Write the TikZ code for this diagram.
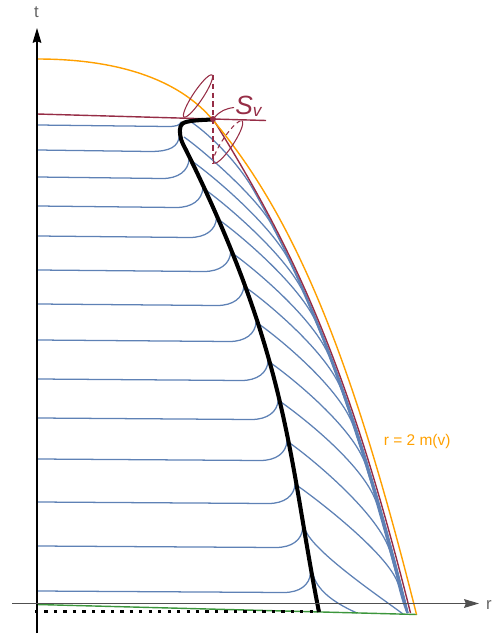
\documentclass[tikz,border=0pt]{standalone}
\usepackage{fontspec}
\setmainfont{Liberation Sans}
\usetikzlibrary{arrows.meta,calc}
\definecolor{bl}{RGB}{94,129,181}
\definecolor{mr}{RGB}{150,45,70}
\definecolor{org}{RGB}{255,160,0}
\definecolor{grn}{RGB}{60,150,60}
\definecolor{axg}{RGB}{80,80,80}
\definecolor{lbg}{RGB}{100,100,100}
% #1,#2: start on black curve; #3: curve parameter of merge point on envelope; #4: offset (px); #5: control length
\newcommand\envray[5]{%
  \path ($(E0)!#3!(E1)$) coordinate (a1) ($(E1)!#3!(E2)$) coordinate (a2) ($(E2)!#3!(E3)$) coordinate (a3);
  \path ($(a1)!#3!(a2)$) coordinate (b1) ($(a2)!#3!(a3)$) coordinate (b2);
  \path ($(b1)!#3!(b2)$) coordinate (m);
  \path ([shift={(-#4,0)}]m) coordinate (ms) ([shift={(-#4,0)}]b2) coordinate (b2s)
        ([shift={(-#4,0)}]a3) coordinate (a3s) ([shift={(-2-0.3*#4,0)}]E3) coordinate (es);
  \draw[ray] (#1,#2) .. controls +(20,14) and ($(ms)!-#5!(b2s)$) .. (ms) .. controls (b2s) and (a3s) .. (es);
}
\begin{document}
\begin{tikzpicture}[x=0.02cm,y=-0.02cm,
  ray/.style={bl, line width=0.72pt},
  mline/.style={mr, line width=0.8pt},
  thin/.style={mr, line width=0.6pt},
  axis/.style={line width=0.6pt, -{Stealth[length=8.5pt,width=5pt,inset=1pt]}},
  axlab/.style={text=lbg, font=\fontsize{9.5}{10}\selectfont, inner sep=0pt}]
\useasboundingbox (0,0) rectangle (493,635);
% envelope (maroon) control points
\coordinate (E0) at (213,119);
\coordinate (E1) at (293.6,249);
\coordinate (E2) at (348,363);
\coordinate (E3) at (410.5,613);
% ---------- blue curves: left parts ----------
\draw[ray] (37.5,125) -- (168,126.5) .. controls (176,126.5) and (179.5,125.5) .. (181,122);
\draw[ray] (37.5,150) -- (150,151.5) .. controls (170,151.5) and (178.5,147) .. (179.5,135);
\foreach \yL/\xT in {177/190.3, 206/204.1, 236/217.7, 270/231.9, 304/245.1, 340/257.3, 379/269.3, 418/279.4, 459/288.2, 502/296.3, 546/303.9, 591/311.7}
  \draw[ray] (37.5,\yL) -- ({\xT-28},{\yL+1.5}) .. controls ({\xT-12},{\yL+1.5}) and ({\xT-2},{\yL-6}) .. ({\xT-1.2},{\yL-18});
% ---------- blue curves: right parts ----------
\envray{192}{122.5}{0.185}{1.5}{0.6cm}
\envray{184}{137}{0.273}{2}{0.6cm}
\envray{191.8}{161}{0.364}{2.5}{0.8cm}
\envray{205.6}{190}{0.437}{3}{0.8cm}
\envray{219.2}{220}{0.505}{3}{0.8cm}
\envray{233.4}{254}{0.576}{3.5}{0.8cm}
\envray{246.6}{288}{0.644}{3.5}{0.8cm}
\envray{258.8}{324}{0.711}{4}{0.8cm}
\envray{270.8}{363}{0.78}{4}{0.8cm}
\envray{280.9}{402}{0.843}{4.5}{0.8cm}
\envray{289.7}{443}{0.916}{4.5}{0.8cm}
\envray{297.8}{486}{0.962}{5}{0.6cm}
\draw[ray] (305.4,530) .. controls +(8,22) and +(-20,-15) .. (403,614);
\draw[ray] (313.2,575) .. controls +(5,18) and +(-18,-8) .. (357,613);
% ---------- green initial surface ----------
\draw[grn, line width=0.8pt] (37,604.5) -- (417,614.5);
% ---------- maroon envelope and line ----------
\draw[mline] (E0) .. controls (E1) and (E2) .. (E3);
\draw[mline] (37,114) -- (266,120.5);
% ---------- orange r = 2m(v) ----------
\draw[org, line width=0.8pt] (37,59) .. controls (127,59) and (182.25,84) .. (212,119) .. controls (297,219) and (354,364.5) .. (416.5,614.5);
% ---------- black curve and dotted line ----------
\draw[line width=2.3pt] (213,119.5) .. controls (200,120) and (187,120.5) .. (182.5,123.5) .. controls (179,126.5) and (179.5,133) .. (181,139) .. controls (182.2,143) and (183.8,145.6) .. (186,150) .. controls (290,360) and (289,462) .. (319,612);
\draw[line width=1.87pt, dash pattern=on 1.87pt off 3.52pt] (35,611.5) -- (318,611.5);
% ---------- cones at S_v ----------
\draw[thin] plot[domain=0:360, samples=73, smooth] ({198+13.97*cos(\x)+4.16*sin(\x)}, {96-20.97*cos(\x)+2.77*sin(\x)});
\draw[thin] plot[domain=0:180, samples=37, smooth] ({228+13.97*cos(\x)+4.6*sin(\x)}, {142-20.97*cos(\x)+3.05*sin(\x)});
\draw[thin, dash pattern=on 2.5pt off 2pt] plot[domain=180:360, samples=37, smooth] ({228+13.97*cos(\x)+4.6*sin(\x)}, {142-20.97*cos(\x)+3.05*sin(\x)});
\draw[mline, dash pattern=on 3pt off 2pt] (213,75) -- (213,163);
\coordinate (svp) at (213,119);
\fill[mr] (svp) circle [radius=3];
\node[text=mr, anchor=base west, inner sep=0pt] (sv) at (235,114) {\fontsize{15}{15}\selectfont\itshape S\raisebox{-1.7pt}{\fontsize{9.8}{10}\selectfont v}};
\coordinate (hk) at (234,107.5);
\draw[thin] ([shift={(2,-2)}]svp) .. controls (220,111) and (226,108.5) .. (hk);
% ---------- axes ----------
\coordinate (t0) at (37,633);
\coordinate (t1) at (37,28);
\coordinate (r0) at (12,603.5);
\coordinate (r1) at (479,603.5);
\draw[axis] (t0) -- (t1);
\draw[axis, axg] (r0) -- (r1);
\node[axlab] (tl) at (36.5,12.5) {t};
\node[axlab] (rl) at (489,605) {r};
\node[text=org, anchor=base west, inner sep=0pt, font=\fontsize{8.8}{9}\selectfont] (ml) at (383.5,445.7) {r = 2 m(v)};
\end{tikzpicture}
\end{document}
